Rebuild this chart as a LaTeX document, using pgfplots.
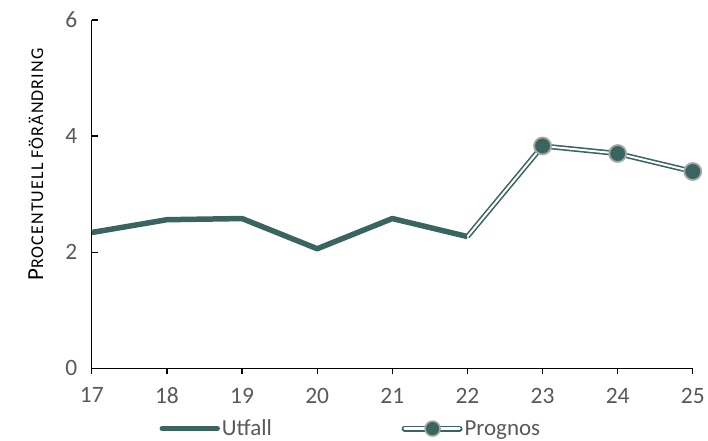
\documentclass[border=0pt]{standalone}
\usepackage{pgfplots}
\pgfplotsset{compat=1.18}
\usepackage{fontspec}
\setmainfont{Carlito}

\definecolor{lineclr}{HTML}{3A645F}
\definecolor{mkedge}{HTML}{A6A6A6}
\definecolor{txt}{HTML}{595959}

\begin{document}
\begin{tikzpicture}
\begin{axis}[
  scale only axis,
  width=602pt, height=349pt,
  xmin=17, xmax=25, ymin=0, ymax=6,
  xtick={17,...,25}, ytick={0,2,4,6},
  axis x line*=bottom, axis y line*=left,
  axis line style={black, line width=1.3pt},
  x tick style={black, line width=1.3pt},
  y tick style={black, line width=1.3pt},
  xtick align=outside, ytick align=inside,
  major tick length=6pt,
  ticklabel style={font=\fontsize{23.5}{26}\selectfont, text=txt},
  /pgf/number format/assume math mode=true,
  yticklabel style={xshift=-11pt},
  xticklabel style={yshift=-10pt},
  ylabel={{\fontsize{23}{23}\selectfont P}{\fontsize{18}{20}\selectfont\addfontfeature{LetterSpace=6}ROCENTUELL FÖRÄNDRING}},
  ylabel style={at={(axis description cs:-0.093,0.585)}, anchor=center, text=black},
  legend style={at={(axis description cs:0.431,-0.173)}, anchor=center,
    draw=none, fill=none, inner sep=0pt,
    font=\fontsize{23}{26}\selectfont, text=txt,
    nodes={inner ysep=0pt},
    /tikz/every even column/.append style={column sep=128pt}},
  legend columns=2,
  legend cell align=left,
  clip=false,
]
% recorded values
\addplot[forget plot, lineclr, line width=5.5pt, line join=round] coordinates {
  (17,2.34) (18,2.56) (19,2.58) (20,2.06) (21,2.58) (22,2.27)
};
% forecast: double line from the last recorded year
\addplot[forget plot, lineclr, line width=1.6pt, double=white, double distance=2pt, line join=round] coordinates {
  (22,2.27) (23,3.83) (24,3.70) (25,3.39)
};
\addplot[forget plot, only marks, mark=*, mark size=8.5pt,
  mark options={fill=lineclr, draw=mkedge, line width=1.8pt}] coordinates {
  (23,3.83) (24,3.70) (25,3.39)
};
\addlegendimage{legend image code/.code={
  \draw[lineclr, line width=5.5pt, line cap=round] (0pt,0pt) -- (55pt,0pt);}}
\addlegendentry{Utfall}
\addlegendimage{legend image code/.code={
  \draw[lineclr, line width=1.8pt, double=white, double distance=2.5pt, line cap=round] (0pt,0pt) -- (55pt,0pt);
  \draw[fill=lineclr, draw=mkedge, line width=1.6pt] (28pt,0pt) circle (7.5pt);}}
\addlegendentry{Prognos}
\end{axis}
\path (-92pt,-72pt) rectangle (616pt,369pt);
\end{tikzpicture}
\end{document}
